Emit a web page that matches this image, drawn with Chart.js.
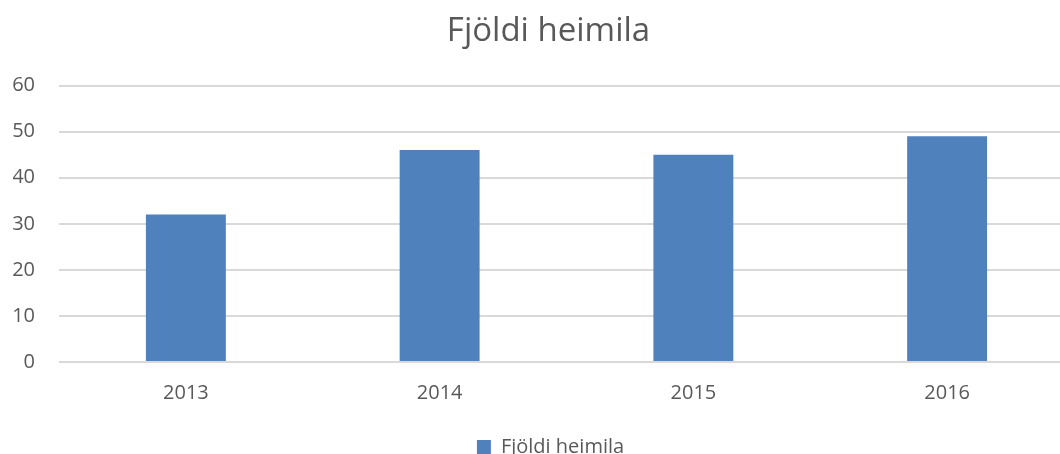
<!DOCTYPE html>
<html>
<head>
<meta charset="utf-8">
<script src="https://cdn.jsdelivr.net/npm/chart.js@4"></script>
<style>
  html, body { margin: 0; padding: 0; background: #fff; overflow: hidden; width: 1060px; height: 454px; }
  #wrap { width: 1100px; height: 470px; }
</style>
</head>
<body>
<div id="wrap"><canvas id="myChart" width="1100" height="470"></canvas></div>
<script>
// gögn
const years = ['2013', '2014', '2015', '2016'];
const heimili = [32, 46, 45, 49];
const seriesName = 'Fjöldi heimila';

const textColor = '#595959';
const font = "'Open Sans', sans-serif";

var chartArea = document.getElementById('myChart').getContext('2d');

// titill og skýring aðeins til hægri, eins og í Excel
const shiftBlocks = {
  id: 'shiftBlocks',
  afterLayout(chart) {
    if (chart.titleBlock) chart.titleBlock.left += 10;
    if (chart.legend) {
      chart.legend.left += 14;
      chart.legend.top -= 3;
      chart.legend.bottom -= 3;
    }
  }
};

var myChart = new Chart(chartArea, {
  type: 'bar',
  data: {
    labels: years,
    datasets: [
      {
        label: seriesName,
        data: heimili,
        backgroundColor: '#4F81BD',
        borderWidth: 0,
        barPercentage: 0.315,
        categoryPercentage: 1
      }
    ]
  },
  options: {
    responsive: false,
    animation: false,
    layout: { padding: { left: 13, right: 26, top: 0, bottom: 0 } },
    plugins: {
      title: {
        display: true,
        text: 'Fjöldi heimila',
        color: textColor,
        font: { family: font, size: 33, weight: 'normal' },
        padding: { top: 12, bottom: 34 }
      },
      legend: {
        position: 'bottom',
        labels: {
          color: textColor,
          font: { family: font, size: 20 },
          boxWidth: 14,
          boxHeight: 14,
          padding: 10
        }
      },
      tooltip: { enabled: false }
    },
    scales: {
      x: {
        grid: { display: false, drawTicks: false },
        border: { display: false },
        ticks: { color: textColor, font: { family: font, size: 20 }, padding: 19 },
        afterFit(scale) { scale.height = 68; }
      },
      y: {
        min: 0,
        max: 60,
        ticks: { stepSize: 10, color: textColor, font: { family: font, size: 20 }, padding: 24 },
        grid: { color: '#D9D9D9', lineWidth: 2, drawTicks: false },
        border: { display: false },
        afterFit(scale) { scale.width = 46; }
      }
    }
  },
  plugins: [shiftBlocks]
});
</script>
</body>
</html>
